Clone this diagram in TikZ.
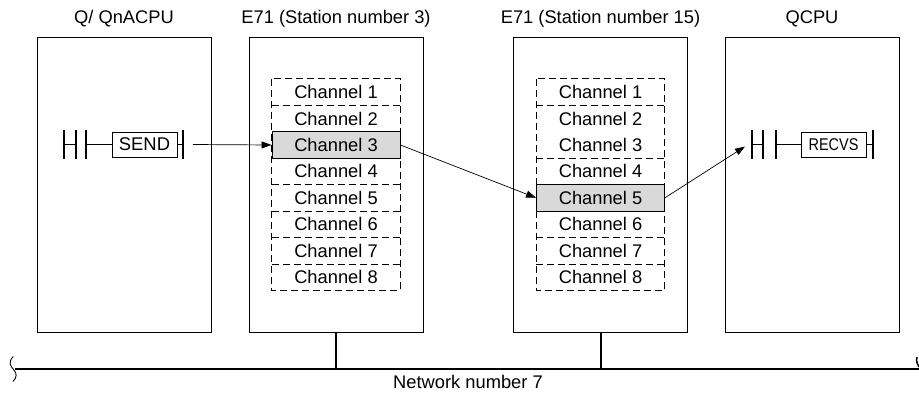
\documentclass[tikz,border=0pt]{standalone}
\usepackage{fontspec}
\setmainfont{Liberation Sans}
\usetikzlibrary{arrows.meta,positioning}

\begin{document}
\begin{tikzpicture}[x=1pt,y=-1pt,
  unit/.style={draw,line width=1pt,minimum width=174pt,minimum height=295pt,inner sep=0pt},
  title/.style={font=\fontsize{18.3}{22}\selectfont,anchor=base,inner sep=0pt},
  chan/.style={font=\fontsize{18.3}{22}\selectfont,minimum width=128pt,minimum height=26.4pt,inner sep=0pt},
  hot/.style={chan,draw,line width=0.9pt,fill=gray!30},
  cell/.style={line width=0.8pt,dash pattern=on 7pt off 4pt},
  rung/.style={line width=1.3pt},
  bar/.style={line width=2pt},
  instr/.style={draw,line width=1pt,minimum width=65pt,minimum height=25pt,inner sep=0pt},
  link/.style={line width=0.7pt,-{Triangle[length=10pt,width=7pt]}},
  bus/.style={line width=2pt}]
  \useasboundingbox (0,0) rectangle (919,394);
  \node[unit] (cpuA) at (124,184.5) {};
  \node[unit] (stA) at (336,184.5) {};
  \node[unit] (stB) at (600.5,184.5) {};
  \node[unit] (cpuB) at (812,184.5) {};
  \node[title] (tA) at ([yshift=13pt]cpuA.north) {Q/ QnACPU};
  \node[title] (tB) at ([yshift=13pt]stA.north) {E71 (Station number 3)};
  \node[title] (tC) at ([yshift=13pt]stB.north) {E71 (Station number 15)};
  \node[title] (tD) at ([yshift=13pt]cpuB.north) {QCPU};
  % channel tables, rows 26.4 high from y = 79
  \foreach \i/\st in {1/chan,2/chan,3/hot,4/chan,5/chan,6/chan,7/chan,8/chan}
    \node[\st] (a\i) at (336,{65.8+26.4*\i}) {Channel \i};
  \foreach \i/\st in {1/chan,2/chan,3/chan,4/chan,5/hot,6/chan,7/chan,8/chan}
    \node[\st] (b\i) at (600.5,{65.8+26.4*\i}) {Channel \i};
  \draw[cell] (a1.north west) rectangle (a8.south east);
  \foreach \i in {1,4,5,6,7}
    \draw[cell] (a\i.south west) -- (a\i.south east);
  \draw[cell] (b1.north west) rectangle (b8.south east);
  \foreach \i in {1,3,6,7}
    \draw[cell] (b\i.south west) -- (b\i.south east);
  % ladder rungs
  \node[instr,font=\fontsize{18.4}{22}\selectfont] (send) at (144.5,144.5) {SEND};
  \draw[bar] (64,130) -- (64,159) (76,130) -- (76,159) (86,130) -- (86,159) (183,130) -- (183,159);
  \draw[rung] (64,144.5) -- (76,144.5) (86,144.5) -- (send.west) (send.east) -- (183,144.5);
  \node[instr,font=\fontsize{17}{20}\selectfont] (recv) at (833.5,144.5) {\scalebox{0.85}[1]{RECVS}};
  \draw[bar] (752,130) -- (752,159) (763,130) -- (763,159) (776,130) -- (776,159) (873,130) -- (873,159);
  \draw[rung] (752,144.5) -- (763,144.5) (776,144.5) -- (recv.west) (recv.east) -- (873,144.5);
  \coordinate (sendout) at (193,144.5);
  \coordinate (recvin) at (745,146.5);
  \draw[link] (sendout) -- (a3.west);
  \draw[link] (a3.east) -- (b5.west);
  \draw[link] (b5.east) -- (recvin);
  % network
  \coordinate (netL) at (15,369);
  \coordinate (netR) at (919,369);
  \draw[bus] (netL) -- (netR);
  \draw[bus] (stA.south) -- (stA.south |- netL);
  \draw[bus] (stB.south) -- (stB.south |- netL);
  \draw[line width=0.9pt] (13.3,356.5) .. controls (8,362) and (10,366) .. (14,370) .. controls (17,374) and (17,377) .. (13,381.5);
  \draw[line width=1.5pt] (917,357) .. controls (916,361) and (917,364) .. (919,367);
  \node[title] (net) at (468,388) {Network number 7};
\end{tikzpicture}
\end{document}
